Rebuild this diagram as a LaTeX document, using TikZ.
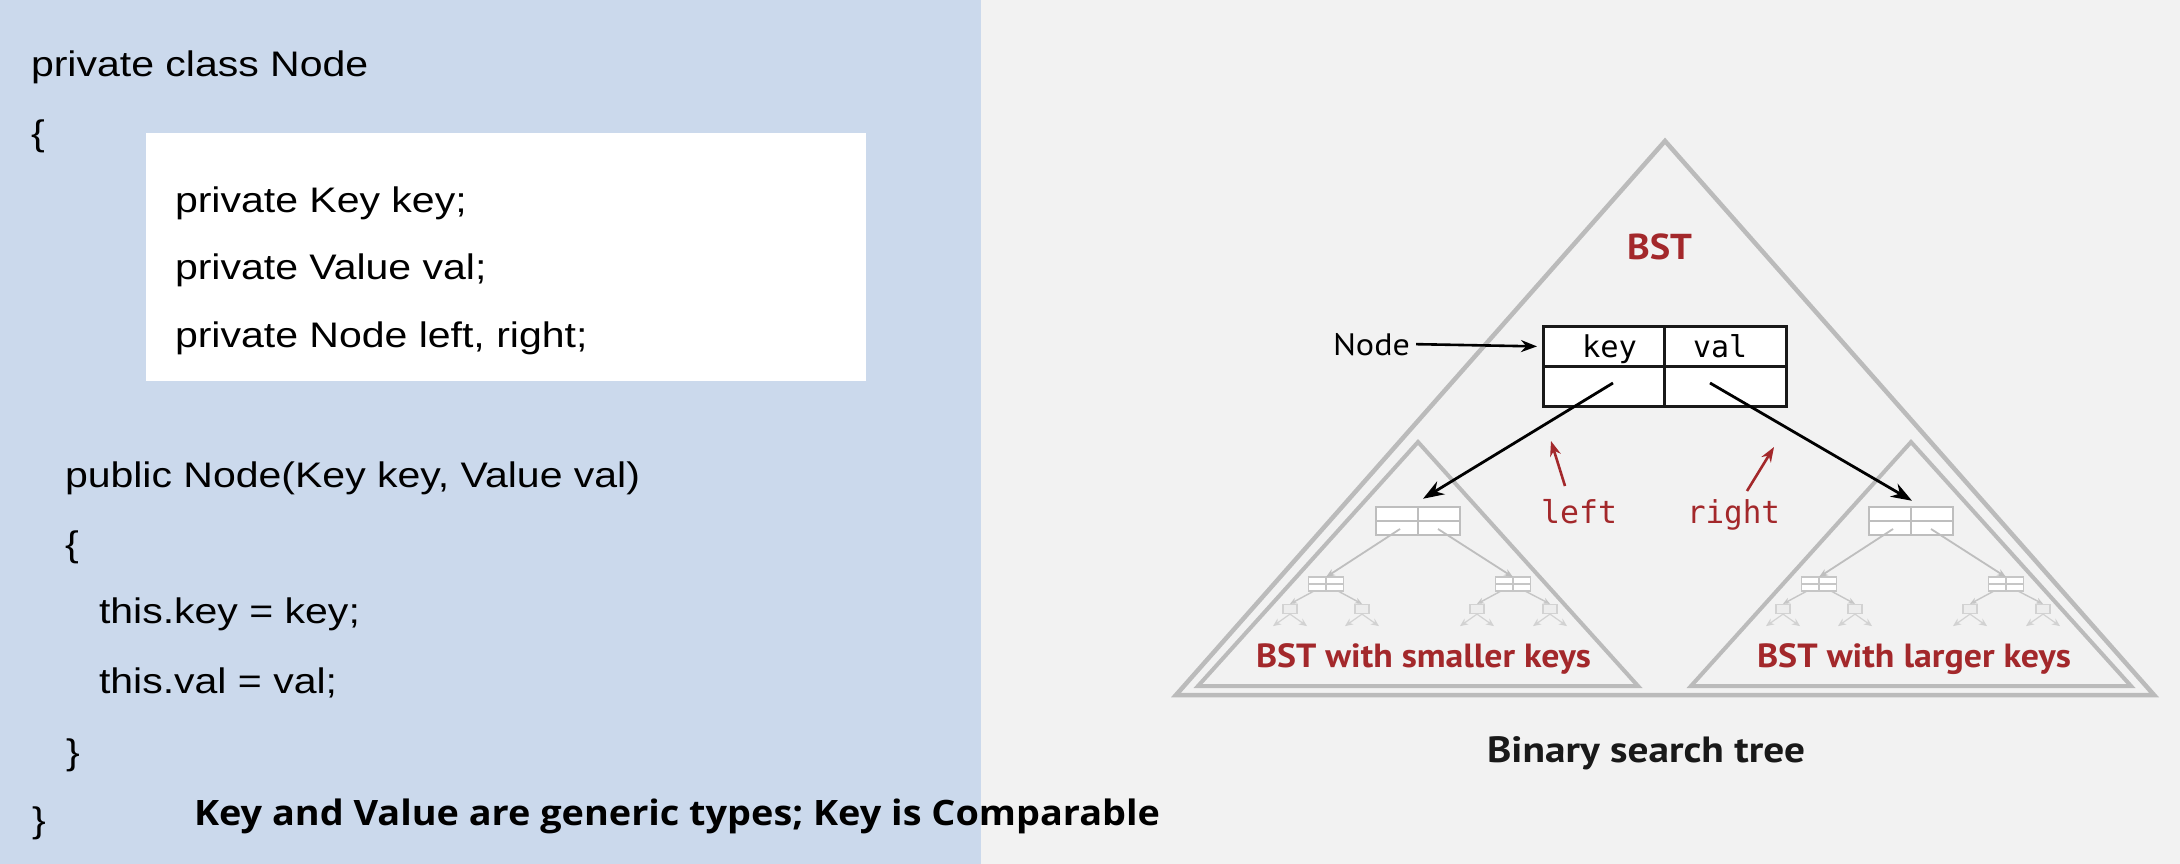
\documentclass[tikz,border=0pt]{standalone}
\usepackage{fontspec}
\setmainfont{Liberation Sans}
\newfontfamily\codefont{Liberation Sans}
\newfontfamily\labfont{PT Sans}
\newfontfamily\notefont{Open Sans}
\newfontfamily\monofont{DejaVu Sans Mono}
\usetikzlibrary{arrows.meta}
\definecolor{panelblue}{HTML}{CBD9EC}
\definecolor{panelgray}{HTML}{F2F2F2}
\definecolor{bstred}{HTML}{A3282B}
\definecolor{trigray}{HTML}{BBBBBB}
\definecolor{gone}{HTML}{BEBEBE}
\definecolor{gtwo}{HTML}{C6C6C6}
\definecolor{gthree}{HTML}{D2D2D2}
\newcommand{\codeline}[1]{\scalebox{1.155}[1]{\fontsize{35.5}{40}\codefont #1}}
\newcommand{\fitw}[2]{\resizebox{#1}{\height}{#2}}
\begin{document}
\begin{tikzpicture}[x=1pt,y=-1pt,
  txt/.style={anchor=base west, inner sep=0pt, outer sep=0pt},
  tri/.style={draw=trigray, line width=4pt, line join=miter},
  bigtri/.style={draw=trigray, line width=4.5pt, line join=miter},
  cellbox/.style={draw=black!90, line width=2.8pt, fill=white, inner sep=0pt, anchor=north west, minimum height=40pt},
  blackarrow/.style={line width=2.8pt, -{Stealth[length=21pt,width=15pt]}},
  nodearrow/.style={line width=2.6pt, -{Stealth[length=16pt,width=12pt]}},
  redarrow/.style={draw=bstred, line width=2.6pt, -{Stealth[length=15pt,width=11pt]}},
  gnode/.style={draw=gone, fill=white, line width=2.5pt, minimum width=84pt, minimum height=28pt, inner sep=0pt,
    path picture={\draw[gone, line width=2.5pt] (path picture bounding box.west) -- (path picture bounding box.east);
                  \draw[gone, line width=2.5pt] (path picture bounding box.north) -- (path picture bounding box.south);}},
  gnodetwo/.style={draw=gtwo, fill=white, line width=1.8pt, minimum width=35pt, minimum height=14pt, inner sep=0pt,
    path picture={\draw[gtwo, line width=1.5pt] (path picture bounding box.west) -- (path picture bounding box.east);
                  \draw[gtwo, line width=1.5pt] (path picture bounding box.north) -- (path picture bounding box.south);}},
  gnodethree/.style={draw=gthree, fill=gthree!40, line width=1.2pt, minimum width=14pt, minimum height=9pt, inner sep=0pt},
  garrow/.style={draw=gone, line width=1.8pt, -{Stealth[length=9pt,width=7pt]}},
  garrowtwo/.style={draw=gtwo, line width=1.4pt, -{Stealth[length=7pt,width=6pt]}},
  garrowthree/.style={draw=gthree, line width=1.2pt, -{Stealth[length=8pt,width=7pt]}}
]
\useasboundingbox (0,0) rectangle (2180,864);
\fill[panelgray] (0,0) rectangle (2180,864);
\fill[panelblue] (0,0) rectangle (981,864);
\node[fill=white, minimum width=720pt, minimum height=248pt, inner sep=0pt, anchor=north west] (fields) at (146,133) {};

% code
\node[txt] (l1) at (31,77) {\codeline{private class Node}};
\node[txt] (l2) at (31,146) {\codeline{\{}};
\node[txt] (l3) at (175,212) {\codeline{private Key key;}};
\node[txt] (l4) at (175,279) {\codeline{private Value val;}};
\node[txt] (l5) at (175,347) {\codeline{private Node left, right;}};
\node[txt] (l6) at (65,487) {\codeline{public Node(Key key, Value val)}};
\node[txt] (l7) at (65,556) {\codeline{\{}};
\node[txt] (l8) at (99,623) {\codeline{this.key = key;}};
\node[txt] (l9) at (99,693) {\codeline{this.val = val;}};
\node[txt] (l10) at (66,764) {\codeline{\}}};
\node[txt] (l11) at (32,832) {\codeline{\}}};
\node[txt] (note) at (194,825) {\fitw{966pt}{\fontsize{35}{40}\notefont\bfseries Key and Value are generic types; Key is Comparable}};

% triangles
\draw[bigtri] (1665,141) -- (2154,695) -- (1176,695) -- cycle;
\draw[tri] (1418,442) -- (1638,686) -- (1198,686) -- cycle;
\draw[tri] (1911,442) -- (2131,686) -- (1691,686) -- cycle;

\node[txt, text=bstred] (bst) at (1627,259) {\fitw{65pt}{\fontsize{36}{40}\labfont\bfseries BST}};

% main node
\node[cellbox, minimum width=121pt] (ck) at (1542,325) {};
\node[cellbox, minimum width=122pt] (cv) at (1663,325) {};
\node[cellbox, minimum width=121pt] (cl) at (1542,365) {};
\node[cellbox, minimum width=122pt] (cr) at (1663,365) {};
\node[txt] (keytxt) at (1582,357) {\fitw{55pt}{\fontsize{30}{34}\monofont key}};
\node[txt] (valtxt) at (1693,357) {\fitw{54pt}{\fontsize{30}{34}\monofont val}};
\node[txt] (nodelbl) at (1333,355) {\fitw{77pt}{\fontsize{31}{34}\labfont Node}};
\draw[nodearrow] ([xshift=6pt]nodelbl.east) -- ([xshift=-5pt]ck.west);

% subtrees
\foreach \s/\dx in {L/0,R/493} {
\begin{scope}[xshift=\dx pt]
  \node[gnode] (top\s) at (1418,521) {};
  \node[gnodetwo] (a\s) at (1326,584) {};
  \node[gnodetwo] (b\s) at (1513,584) {};
  \draw[garrow] ([shift={(-18,8)}]top\s.center) -- ([yshift=-1pt]a\s.north);
  \draw[garrow] ([shift={(20,8)}]top\s.center) -- ([yshift=-1pt]b\s.north);
  \node[gnodethree] (aa\s) at (1290,609) {};
  \node[gnodethree] (ab\s) at (1362,609) {};
  \node[gnodethree] (ba\s) at (1477,609) {};
  \node[gnodethree] (bb\s) at (1550,609) {};
  \draw[garrowtwo] ([shift={(-12,7)}]a\s.center) -- (aa\s.north);
  \draw[garrowtwo] ([shift={(12,7)}]a\s.center) -- (ab\s.north);
  \draw[garrowtwo] ([shift={(-12,7)}]b\s.center) -- (ba\s.north);
  \draw[garrowtwo] ([shift={(12,7)}]b\s.center) -- (bb\s.north);
  \foreach \t in {aa,ab,ba,bb} {
    \draw[garrowthree] (\t\s.south) -- ++(-17,12);
    \draw[garrowthree] (\t\s.south) -- ++(17,12);
  }
\end{scope}
}

% links
\coordinate (lp) at (1613,383);
\coordinate (rp) at (1710,383);
\draw[blackarrow] (lp) -- ([xshift=5pt,yshift=7pt]topL.north);
\draw[blackarrow] (rp) -- ([xshift=1pt,yshift=5pt]topR.north);

% labels left / right
\node[txt, text=bstred] (lefttxt) at (1541,523) {\fitw{76pt}{\fontsize{31.5}{34}\monofont left}};
\node[txt, text=bstred] (righttxt) at (1687,523) {\fitw{93pt}{\fontsize{31.5}{34}\monofont right}};
\coordinate (la0) at (1565,486);
\coordinate (la1) at (1551,441);
\coordinate (ra0) at (1747,491);
\coordinate (ra1) at (1774,447);
\draw[redarrow] (la0) -- (la1);
\draw[redarrow] (ra0) -- (ra1);

\node[txt, text=bstred] (smallL) at (1256,667) {\fitw{335pt}{\fontsize{33.5}{36}\labfont\bfseries BST with smaller keys}};
\node[txt, text=bstred] (largeR) at (1757,667) {\fitw{314pt}{\fontsize{33.5}{36}\labfont\bfseries BST with larger keys}};
\node[txt, text=black!90] (caption) at (1487,762) {\fitw{318pt}{\fontsize{36.5}{40}\labfont\bfseries Binary search tree}};
\end{tikzpicture}
\end{document}
